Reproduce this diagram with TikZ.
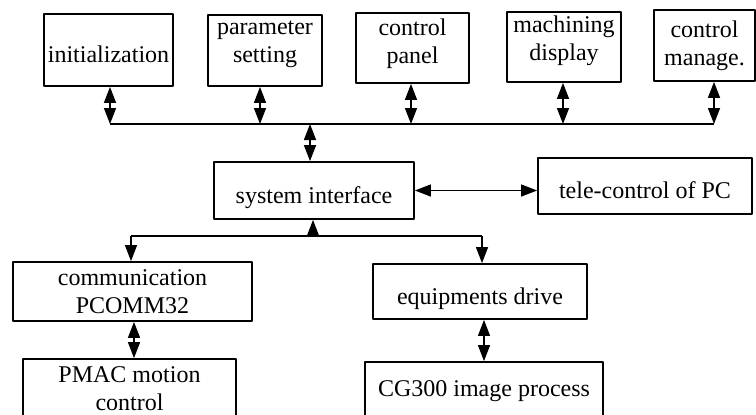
\documentclass[tikz,border=0pt]{standalone}
\usepackage{fontspec}
\setmainfont{Liberation Serif}
\usetikzlibrary{arrows.meta}
\newcommand{\lowdp}[1]{\rule[-#1]{0pt}{0pt}}
\begin{document}
\begin{tikzpicture}[x=0.5pt,y=-0.5pt,>={Triangle[length=8pt,width=6pt]},
		font=\fontsize{12}{14}\selectfont, line join=round,
		box/.style={draw,line width=0.9pt,align=center,inner sep=0pt},
		onerow/.style={text height=12.5pt,text depth=0pt},
		link/.style={line width=0.7pt}]
		\useasboundingbox (0,0) rectangle (756,414);
		% top row
		\node[box,onerow,minimum width=64.5pt,minimum height=36pt] (init) at (108.5,50) {initialization};
		\node[box,minimum width=57pt,minimum height=35.5pt] (param) at (265,50.5) {parameter\\setting\lowdp{8.6pt}};
		\node[box,minimum width=56.5pt,minimum height=35pt] (panel) at (412.5,48) {control\\panel\lowdp{6.6pt}};
		\node[box,minimum width=57pt,minimum height=35pt] (disp) at (564,47) {machining\\display\lowdp{8.6pt}};
		\node[box,minimum width=50.5pt,minimum height=35.5pt] (manage) at (704.5,45.5) {control\\manage.};
		% middle
		\node[box,onerow,minimum width=100pt,minimum height=28.5pt] (sysif) at (314,190.5) {system interface};
		\node[box,onerow,minimum width=107pt,minimum height=28pt] (tele) at (645,186) {tele-control of PC};
		% bottom
		\node[box,minimum width=119.5pt,minimum height=29.5pt] (comm) at (132.5,291.5) {communication\\PCOMM32};
		\node[box,onerow,minimum width=107pt,minimum height=27.5pt] (equip) at (480,291.5) {equipments drive};
		\node[box,minimum width=106.5pt,minimum height=29.5pt] (pmac) at (129.5,388.5) {PMAC motion\\control};
		\node[box,minimum width=119pt,minimum height=29pt] (cg) at (484,391) {CG300 image process};
		% upper bus
		\coordinate (b1) at (110,124);
		\coordinate (b2) at (260,124);
		\coordinate (b3) at (411,124);
		\coordinate (b4) at (563,124);
		\coordinate (b5) at (714,124);
		\coordinate (bs) at (310,124);
		\draw[link] (b1) -- (b5);
		\draw[link,<->] (init.south -| b1) -- (b1);
		\draw[link,<->] (param.south -| b2) -- (b2);
		\draw[link,<->] (panel.south -| b3) -- (b3);
		\draw[link,<->] (disp.south -| b4) -- (b4);
		\draw[link,<->] (manage.south -| b5) -- (b5);
		\draw[link,<->] (bs) -- (bs |- sysif.north);
		\draw[link,<->] (sysif.east) -- (sysif.east -| tele.west);
		% lower bus
		\coordinate (c1) at (131,236);
		\coordinate (c2) at (482,236);
		\coordinate (cs) at (313,236);
		\draw[link] (c1) -- (c2);
		\draw[link,->] (cs) -- (cs |- sysif.south);
		\draw[link,->] (c1) -- (c1 |- comm.north);
		\draw[link,->] (c2) -- (c2 |- equip.north);
		\draw[link,<->] (comm.south -| 134,0) -- (pmac.north -| 134,0);
		\draw[link,<->] (equip.south -| 484,0) -- (cg.north -| 484,0);
\end{tikzpicture}
\end{document}
